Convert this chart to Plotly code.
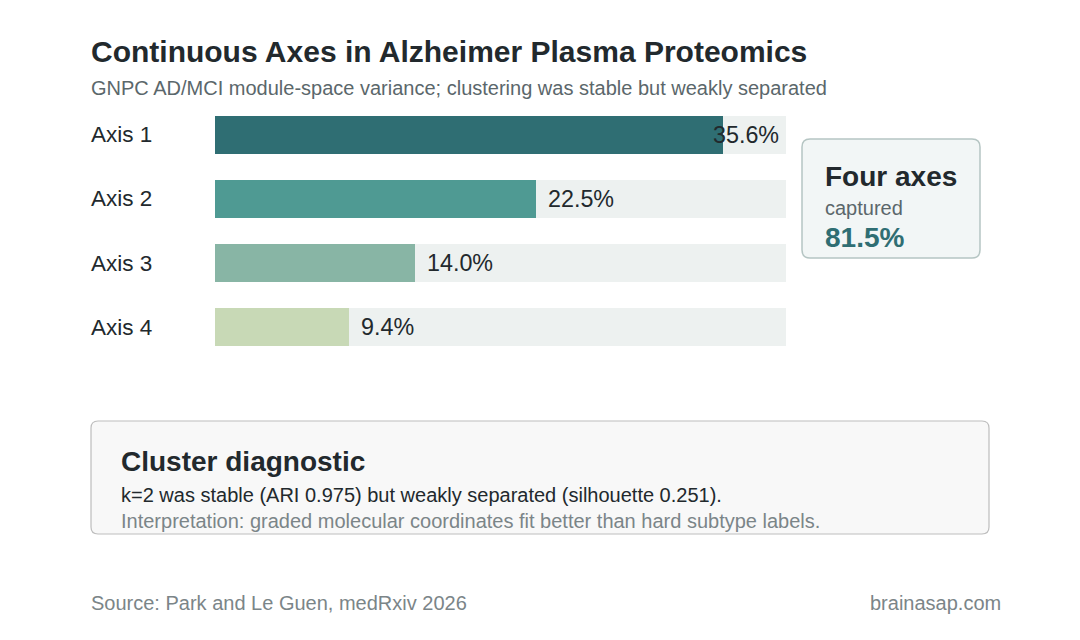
import plotly.graph_objects as go

# ---- data ----
axes_labels = ["Axis 1", "Axis 2", "Axis 3", "Axis 4"]
variance_pct = [35.6, 22.5, 14.0, 9.4]
bar_colors = ["#2f6e73", "#4f9a93", "#88b5a5", "#c8d9b6"]
track_max = 40.0

title = "Continuous Axes in Alzheimer Plasma Proteomics"
subtitle = "GNPC AD/MCI module-space variance; clustering was stable but weakly separated"
callout_head = "Four axes"
callout_sub = "captured"
diag_head = "Cluster diagnostic"
diag_line1 = "k=2 was stable (ARI 0.975) but weakly separated (silhouette 0.251)."
diag_line2 = "Interpretation: graded molecular coordinates fit better than hard subtype labels."
source = "Source: Park and Le Guen, medRxiv 2026"
brand = "brainasap.com"

W, H = 1080, 640
FONT = "Liberation Sans, Arial, sans-serif"
DARK = "#22292d"
GRAY = "#5b676b"
LIGHT = "#7b8588"


def px(x):
    return x / W


def py(y):
    return 1 - y / H


x0_px, x1_px = 215, 786
y_top_px, y_bot_px = 103, 359
units_per_px = track_max / (x1_px - x0_px)

fig = go.Figure()
fig.add_trace(go.Bar(
    y=axes_labels, x=[track_max] * len(axes_labels), orientation="h",
    marker=dict(color="#edf1f0", line=dict(width=0)), width=0.6,
    hoverinfo="skip", showlegend=False))
fig.add_trace(go.Bar(
    y=axes_labels, x=variance_pct, orientation="h",
    marker=dict(color=bar_colors, line=dict(width=0)), width=0.6,
    hoverinfo="skip", showlegend=False))

annotations = []
label_size = 23.3
for lab, v in zip(axes_labels, variance_pct):
    txt_v = f"{v:.1f}%"
    est_w = len(txt_v) * 0.57 * label_size * units_per_px
    gap = 10 * units_per_px
    if v + gap + est_w > track_max:
        annotations.append(dict(x=track_max - 5 * units_per_px, y=lab, xref="x", yref="y",
                                text=txt_v, showarrow=False, xanchor="right",
                                font=dict(size=label_size, color=DARK, family=FONT)))
    else:
        annotations.append(dict(x=v + gap, y=lab, xref="x", yref="y",
                                text=txt_v, showarrow=False, xanchor="left",
                                font=dict(size=label_size, color=DARK, family=FONT)))
    annotations.append(dict(x=px(89), y=lab, xref="paper", yref="y", text=lab,
                            showarrow=False, xanchor="left",
                            font=dict(size=22.5, color=DARK, family=FONT)))


def txt(x, y, s, size, color, bold=False, anchor="left"):
    if bold:
        s = f"<b>{s}</b>"
    annotations.append(dict(x=px(x), y=py(y), xref="paper", yref="paper", text=s,
                            showarrow=False, xanchor=anchor, yanchor="middle",
                            font=dict(size=size, color=color, family=FONT)))


txt(89, 51, title, 30, DARK, bold=True)
txt(89, 88, subtitle, 20, GRAY)

total = sum(variance_pct)
txt(823, 176, callout_head, 28, DARK, bold=True)
txt(823, 208, callout_sub, 20, GRAY)
txt(823, 237, f"{total:.1f}%", 28, "#2f6e73", bold=True)

txt(119, 461, diag_head, 28, DARK, bold=True)
txt(119, 495, diag_line1, 20, DARK)
txt(119, 521, diag_line2, 20, LIGHT)

txt(89, 603, source, 20, LIGHT)
txt(1003, 603, brand, 20, LIGHT, anchor="right")


def rrect(x0, y0, x1, y1, r):
    X0, X1 = px(x0), px(x1)
    Y0, Y1 = py(y0), py(y1)
    rx, ry = r / W, r / H
    return (f"M {X0+rx},{Y0} L {X1-rx},{Y0} Q {X1},{Y0} {X1},{Y0-ry} "
            f"L {X1},{Y1+ry} Q {X1},{Y1} {X1-rx},{Y1} L {X0+rx},{Y1} "
            f"Q {X0},{Y1} {X0},{Y1+ry} L {X0},{Y0-ry} Q {X0},{Y0} {X0+rx},{Y0} Z")


shapes = [
    dict(type="path", xref="paper", yref="paper", path=rrect(802, 139, 980, 258, 8),
         fillcolor="#f2f6f6", line=dict(color="#b5c5c3", width=1.5), layer="below"),
    dict(type="path", xref="paper", yref="paper", path=rrect(91, 421, 989, 534, 7),
         fillcolor="#f8f8f8", line=dict(color="#bdbdbd", width=1.2), layer="below"),
]

fig.update_layout(
    width=W, height=H, margin=dict(l=0, r=0, t=0, b=0),
    paper_bgcolor="white", plot_bgcolor="white",
    barmode="overlay", bargap=0,
    xaxis=dict(domain=[px(x0_px), px(x1_px)], range=[0, track_max], visible=False, fixedrange=True),
    yaxis=dict(domain=[py(y_bot_px), py(y_top_px)], range=[3.5, -0.5], visible=False,
               categoryorder="array", categoryarray=axes_labels, fixedrange=True),
    annotations=annotations, shapes=shapes, showlegend=False,
)

fig.write_html("out.html")
